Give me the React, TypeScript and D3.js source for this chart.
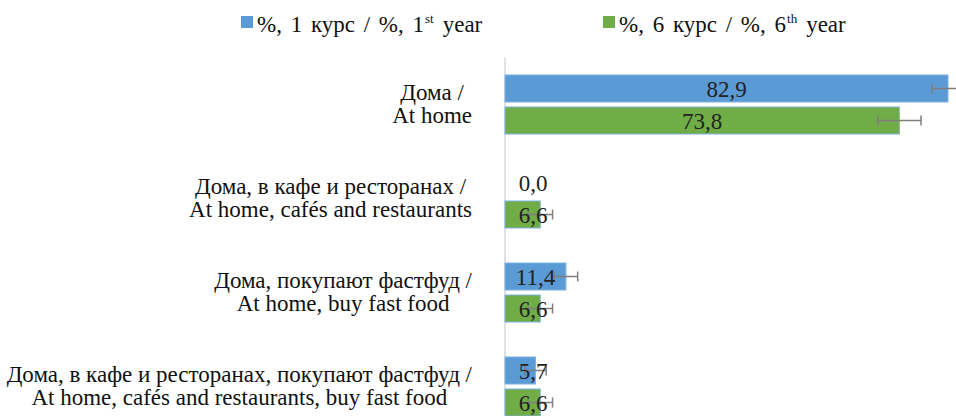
import React, { useLayoutEffect, useRef, useState } from "react";
import * as d3 from "d3";

const categoriesRu = [
  "Дома /",
  "Дома, в кафе и ресторанах /",
  "Дома, покупают фастфуд /",
  "Дома, в кафе и ресторанах, покупают фастфуд /",
];
const categoriesEn = [
  "At home",
  "At home, cafés and restaurants",
  "At home, buy fast food",
  "At home, cafés and restaurants, buy fast food",
];
const seriesKeys = ["y1", "y6"];
const seriesLegendMain = ["%, 1 курс / %, 1", "%, 6 курс / %, 6"];
const seriesLegendSup = ["st", "th"];
const seriesLegendTail = ["year", "year"];
const year1Values = [82.9, 0.0, 11.4, 5.7];
const year6Values = [73.8, 6.6, 6.6, 6.6];
const year1Errors = [3.0, 0, 2.2, 2.0];
const year6Errors = [4.05, 2.3, 2.3, 2.3];

const COLORS = ["#5B9BD5", "#70AD47"];
const axisX = 505;
const labelRight = 472;

const txt = (size: number): React.CSSProperties => ({ fontFamily: "Liberation Serif", fontSize: size });

export default function App() {
  const labelRefs = useRef<(SVGTextElement | null)[]>([]);
  const [centers, setCenters] = useState<number[]>(categoriesRu.map(() => 300));

  useLayoutEffect(() => {
    const c = categoriesRu.map((_, i) => {
      const a = labelRefs.current[2 * i];
      const b = labelRefs.current[2 * i + 1];
      const w = Math.max(a ? a.getComputedTextLength() : 0, b ? b.getComputedTextLength() : 0);
      return labelRight - w / 2;
    });
    setCenters(c);
  }, []);

  const x = d3.scaleLinear().domain([0, 90]).range([axisX, axisX + 90 * (443 / 82.9)]);
  const y = d3
    .scaleBand<number>()
    .domain(d3.range(categoriesRu.length))
    .range([57.5, 433.5])
    .paddingInner(35 / 94)
    .paddingOuter(35 / 188);
  const ys = d3.scaleBand<string>().domain(seriesKeys).range([0, y.bandwidth()]).paddingInner(0.15625);
  const values = [year1Values, year6Values];
  const errors = [year1Errors, year6Errors];
  const legendX = [241, 603];

  return (
    <div style={{ position: "absolute", left: 0, top: 0, width: 956, height: 416, overflow: "hidden", background: "#fff" }}>
      <svg width={956} height={416} style={{ display: "block" }}>
        <line x1={axisX} x2={axisX} y1={57.5} y2={440} stroke="#d9d9d9" strokeWidth={1.5} />
        {seriesKeys.map((key, si) =>
          values[si].map((v, i) => {
            const top = (y(i) as number) + (ys(key) as number);
            const h = ys.bandwidth();
            const cy = top + h / 2;
            const e = errors[si][i];
            const cx = Math.max((x(0) + x(v)) / 2, axisX + 28);
            return (
              <g key={key + i}>
                {v > 0 && (
                  <rect x={x(0)} y={top} width={x(v) - x(0)} height={h} fill={COLORS[si]} stroke="#7fb1e0" strokeWidth={1} />
                )}
                {e > 0 && (
                  <g stroke="#7f7f7f" strokeWidth={1.5}>
                    <line x1={x(v - e)} x2={x(v + e)} y1={cy} y2={cy} />
                    <line x1={x(v - e)} x2={x(v - e)} y1={cy - 5} y2={cy + 5} />
                    <line x1={x(v + e)} x2={x(v + e)} y1={cy - 5} y2={cy + 5} />
                  </g>
                )}
                <text x={cx} y={cy + 8.5} textAnchor="middle" style={txt(23)} fill="#222">
                  {v.toFixed(1).replace(".", ",")}
                </text>
              </g>
            );
          })
        )}
        {categoriesRu.map((ru, i) => {
          const c = (y(i) as number) + y.bandwidth() / 2;
          return (
            <g key={"lab" + i} fill="#111" textAnchor="middle">
              <text ref={(el) => { labelRefs.current[2 * i] = el; }} x={centers[i]} y={c - 5} style={txt(23)}>{ru}</text>
              <text ref={(el) => { labelRefs.current[2 * i + 1] = el; }} x={centers[i]} y={c + 18.5} style={txt(23)}>{categoriesEn[i]}</text>
            </g>
          );
        })}
        {seriesKeys.map((k, si) => (
          <g key={"leg" + k}>
            <rect x={legendX[si]} y={16} width={12} height={12} fill={COLORS[si]} />
            <text x={legendX[si] + 16} y={31.5} style={{ ...txt(23), wordSpacing: 3 }} fill="#111">
              <tspan>{seriesLegendMain[si]}</tspan>
              <tspan style={{ fontSize: 13 }} dy={-9} dx={1}>{seriesLegendSup[si]}</tspan>
              <tspan dy={9} dx={9}>{seriesLegendTail[si]}</tspan>
            </text>
          </g>
        ))}
      </svg>
    </div>
  );
}
